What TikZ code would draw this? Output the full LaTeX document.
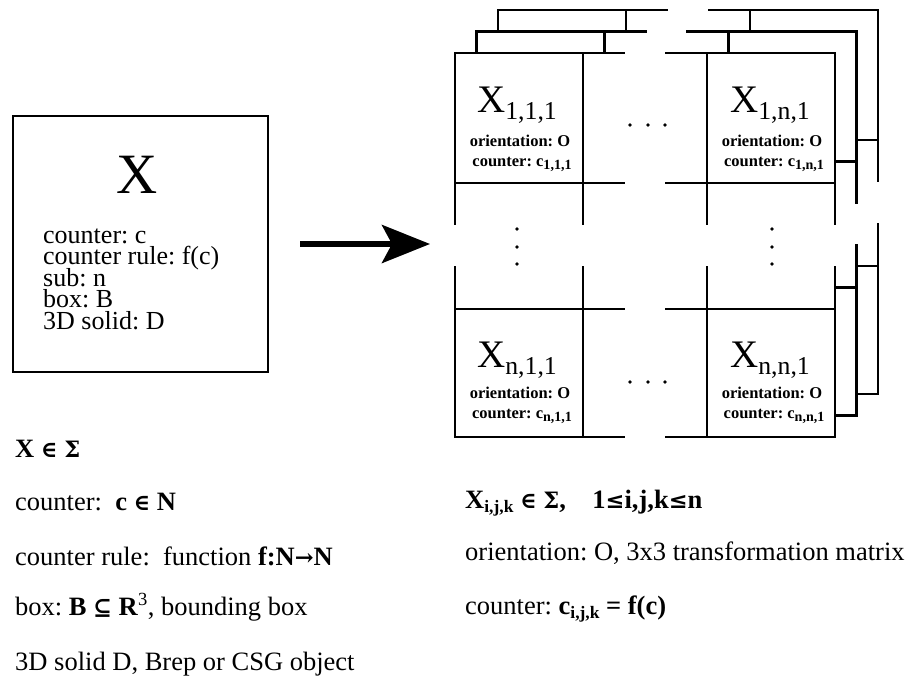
\documentclass[tikz,border=0pt]{standalone}
\usepackage{fontspec}
\setmainfont{Liberation Serif}
\newfontfamily\symfont{DejaVu Serif}
\usetikzlibrary{arrows.meta}
\frenchspacing

\tikzset{
  gridline/.style={line width=2.6pt, line cap=rect},
  celltitle/.style={font=\fontsize{39}{42}\selectfont, anchor=base, inner sep=0pt},
  celltxt/.style={font=\fontsize{16.5}{19}\selectfont\bfseries, anchor=base, inner sep=0pt},
  bodytxt/.style={font=\fontsize{26.5}{30}\selectfont, anchor=base west, inner sep=0pt},
  boxtxt/.style={font=\fontsize{26}{28}\selectfont, anchor=base west, inner sep=0pt},
  bigarrow/.style={line width=6pt, -{Stealth[length=48pt,width=38pt,inset=10pt]}},
}
\newcommand{\idx}[1]{\raisebox{-0.18em}{\scalebox{0.66}{#1}}}
\newcommand{\cidx}[1]{\raisebox{-0.22em}{\scalebox{0.85}{#1}}}
\newcommand{\sym}[1]{{\symfont\scalebox{0.85}{#1}}}

\begin{document}
\begin{tikzpicture}[x=1pt,y=-1pt]
      \fill[white] (0,0) rectangle (909,678);
      \useasboundingbox (0,0) rectangle (909,678);
      % the object
      \node[draw, line width=2.2pt, minimum width=255pt, minimum height=256pt, inner sep=0pt] (xbox) at (140.5,244) {};
      \node[font=\fontsize{57}{60}\selectfont, anchor=base, inner sep=0pt] (xname) at (137,193) {X};
      \node[boxtxt] (xcnt) at (43,243) {counter: c};
      \node[boxtxt] (xrule) at (43,264.5) {counter rule: f(c)};
      \node[boxtxt] (xsub) at (43,286) {sub: n};
      \node[boxtxt] (xbb) at (43,307.5) {box: B};
      \node[boxtxt] (xsolid) at (43,329) {3D solid: D};
      % the n x n x n array, back layers first
      \foreach \k in {2,1,0}{
        \begin{scope}[shift={(21.5*\k,-21.5*\k)}]
          \fill[white] (455,53) rectangle (835,437);
          \foreach \y in {53,183,309,437}
            \draw[gridline] (455,\y) -- (624,\y) (666,\y) -- (835,\y);
          \foreach \x in {455,583,707,835}
            \draw[gridline] (\x,53) -- (\x,224) (\x,267) -- (\x,437);
        \end{scope}
      }
      \coordinate (gridin) at (430,244);
      \draw[bigarrow, shorten <=31pt] (xbox.east) -- (gridin);
      % cells
      \node[celltitle] (t11) at (517,112) {X\idx{1,1,1}};
      \node[celltxt] (o11) at (520,146) {orientation: O};
      \node[celltxt] (c11) at (522,166) {counter: c\cidx{1,1,1}};
      \node[celltitle] (t1n) at (770,112) {X\idx{1,n,1}};
      \node[celltxt] (o1n) at (772,146) {orientation: O};
      \node[celltxt] (c1n) at (774,166) {counter: c\cidx{1,n,1}};
      \node[celltitle] (tn1) at (517,367) {X\idx{n,1,1}};
      \node[celltxt] (on1) at (520,398) {orientation: O};
      \node[celltxt] (cn1) at (522,418) {counter: c\cidx{n,1,1}};
      \node[celltitle] (tnn) at (770,367) {X\idx{n,n,1}};
      \node[celltxt] (onn) at (772,398) {orientation: O};
      \node[celltxt] (cnn) at (774,418) {counter: c\cidx{n,n,1}};
      \foreach \x in {630,648,665} {
        \fill (\x,125) circle (1.9);
        \fill (\x,382) circle (1.9);
      }
      \foreach \y in {229,247,264} {
        \fill (517,\y) circle (1.9);
        \fill (772,\y) circle (1.9);
      }
      % definitions
      \node[bodytxt] (dx) at (15,457) {\bfseries X \sym{∈} \sym{Σ}};
      \node[bodytxt] (dcnt) at (15,510) {counter:\ \ \textbf{c \sym{∈} N}};
      \node[bodytxt] (drule) at (15,565) {counter rule:\ \ function \textbf{f:N\sym{→}N}};
      \node[bodytxt] (dbb) at (15,615) {box: \textbf{B \sym{⊆} R}\textsuperscript{3}, bounding box};
      \node[bodytxt] (dsolid) at (15,670) {3D solid D, Brep or CSG object};
      \node[bodytxt] (dxi) at (465,508) {\bfseries X\idx{i,j,k} \sym{∈} \sym{Σ},\quad 1\sym{≤}i,j,k\sym{≤}n};
      \node[bodytxt] (dori) at (465,560) {orientation: O, 3x3 transformation matrix};
      \node[bodytxt] (dci) at (465,614) {counter: \textbf{c\idx{i,j,k} = f(c)}};
\end{tikzpicture}
\end{document}
